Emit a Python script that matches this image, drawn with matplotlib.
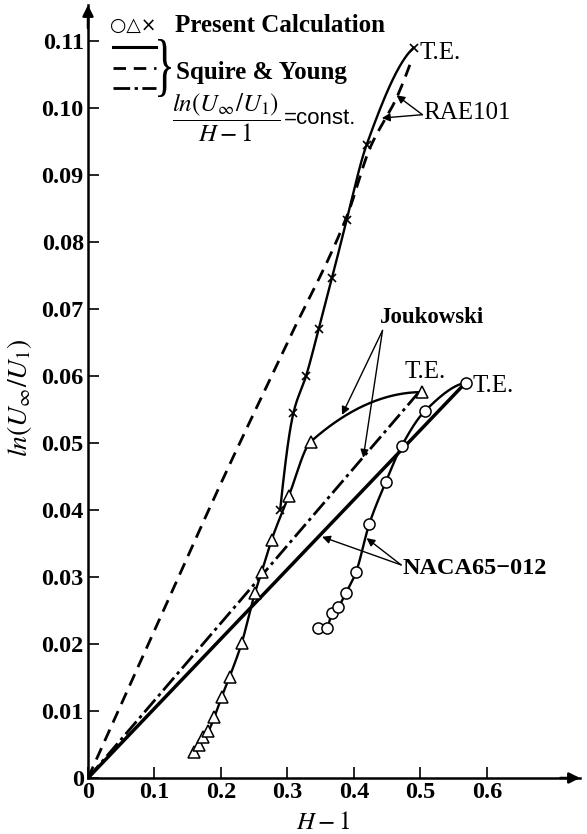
import numpy as np
import matplotlib
matplotlib.use("Agg")
import matplotlib.pyplot as plt
from matplotlib.lines import Line2D
from matplotlib.textpath import TextPath
from matplotlib.patches import PathPatch
from matplotlib.font_manager import FontProperties
from matplotlib.transforms import Affine2D, IdentityTransform

plt.rcParams['mathtext.fontset'] = 'stix'
plt.rcParams['font.family'] = ['Liberation Serif', 'DejaVu Serif']

# ---------------- data ----------------
# Present calculation
rae_x = [0.289, 0.309, 0.328, 0.347, 0.367, 0.389, 0.419, 0.490]
rae_y = [0.040, 0.0545, 0.060, 0.067, 0.0746, 0.0833, 0.0945, 0.109]

jouk_x = [0.159, 0.167, 0.173, 0.181, 0.190, 0.201, 0.213, 0.231, 0.251,
          0.261, 0.276, 0.302, 0.335, 0.503]
jouk_y = [0.0039, 0.0049, 0.0061, 0.0070, 0.0091, 0.0121, 0.0151, 0.0201,
          0.0276, 0.0307, 0.0355, 0.0421, 0.0502, 0.0576]

naca_x = [0.346, 0.359, 0.367, 0.376, 0.388, 0.403, 0.423, 0.448, 0.472,
          0.507, 0.568]
naca_y = [0.0224, 0.0224, 0.0246, 0.0255, 0.0276, 0.0307, 0.0379, 0.0442,
          0.0496, 0.0548, 0.0590]

# Squire & Young
sy_naca_x = [0.0, 0.568]
sy_naca_y = [0.0, 0.0590]
sy_rae_x = [0.0, 0.1, 0.2, 0.3, 0.39, 0.424, 0.464, 0.488]
sy_rae_y = [0.0, 0.022, 0.044, 0.065, 0.084, 0.094, 0.1015, 0.1075]
sy_jouk_x = [0.0, 0.497]
sy_jouk_y = [0.0, 0.0575]

xticks = [0, 0.1, 0.2, 0.3, 0.4, 0.5, 0.6]
xtick_labels = ['0', '0.1', '0.2', '0.3', '0.4', '0.5', '0.6']
yticks = [0, 0.01, 0.02, 0.03, 0.04, 0.05, 0.06, 0.07, 0.08, 0.09, 0.10, 0.11]
ytick_labels = ['0', '0.01', '0.02', '0.03', '0.04', '0.05', '0.06', '0.07',
                '0.08', '0.09', '0.10', '0.11']


def pchip(x, y, n=60):
    x = np.asarray(x, float)
    y = np.asarray(y, float)
    if len(x) < 3:
        return x, y
    h = np.diff(x)
    d = np.diff(y) / h
    m = np.zeros_like(y)
    for k in range(1, len(x) - 1):
        if d[k - 1] * d[k] > 0:
            w1 = 2 * h[k] + h[k - 1]
            w2 = h[k] + 2 * h[k - 1]
            m[k] = (w1 + w2) / (w1 / d[k - 1] + w2 / d[k])

    def end(h0, h1, d0, d1):
        mm = ((2 * h0 + h1) * d0 - h0 * d1) / (h0 + h1)
        if np.sign(mm) != np.sign(d0):
            mm = 0.0
        elif np.sign(d0) != np.sign(d1) and abs(mm) > abs(3 * d0):
            mm = 3 * d0
        return mm
    m[0] = end(h[0], h[1], d[0], d[1])
    m[-1] = end(h[-1], h[-2], d[-1], d[-2])
    xs, ys = [], []
    t = np.linspace(0, 1, n)
    h00 = 2 * t**3 - 3 * t**2 + 1
    h10 = t**3 - 2 * t**2 + t
    h01 = -2 * t**3 + 3 * t**2
    h11 = t**3 - t**2
    for k in range(len(h)):
        xs.append(x[k] + t * h[k])
        ys.append(h00 * y[k] + h10 * h[k] * m[k] + h01 * y[k + 1] + h11 * h[k] * m[k + 1])
    return np.concatenate(xs), np.concatenate(ys)


W, H = 587, 834
fig = plt.figure(figsize=(W / 100, H / 100), dpi=100)
x0p, y0p, x1p, y1p = 88, 778, 580, 5
ax = fig.add_axes([x0p / W, 1 - y0p / H, (x1p - x0p) / W, (y0p - y1p) / H])
ax.set_xlim(0, 0.74)
ax.set_ylim(0, (y0p - y1p) / 6700)

for s in ['top', 'right']:
    ax.spines[s].set_visible(False)
for s in ['left', 'bottom']:
    ax.spines[s].set_linewidth(1.8)

ax.annotate('', xy=(1.0, 0), xytext=(0.96, 0), xycoords='axes fraction',
            arrowprops=dict(arrowstyle='-|>', color='k', lw=1.8, mutation_scale=16,
                            shrinkA=0, shrinkB=0))
ax.annotate('', xy=(0, 1.0), xytext=(0, 0.97), xycoords='axes fraction',
            arrowprops=dict(arrowstyle='-|>', color='k', lw=1.8, mutation_scale=16,
                            shrinkA=0, shrinkB=0))

ax.set_xticks(xticks)
ax.set_xticklabels(xtick_labels)
ax.set_yticks(yticks)
ax.set_yticklabels(ytick_labels)
ax.tick_params(direction='in', length=8, width=1.2, labelsize=17.5, pad=3)
for lab in ax.get_xticklabels() + ax.get_yticklabels():
    lab.set_fontweight('bold')

# Squire & Young curves
ax.plot(sy_naca_x, sy_naca_y, color='k', lw=2.5, solid_capstyle='round')
xs, ys = pchip(sy_rae_x, sy_rae_y)
ax.plot(xs, ys, color='k', lw=2.0, dashes=(4.5, 2.8))
ax.plot(sy_jouk_x, sy_jouk_y, color='k', lw=2.0, dashes=(6, 1.6, 1.2, 1.6))

# Present calculation
xs, ys = pchip(rae_x, rae_y)
ax.plot(xs, ys, color='k', lw=1.7)
ax.plot(rae_x, rae_y, 'x', color='k', ms=6, mew=1.2)

xs, ys = pchip(jouk_x, jouk_y)
ax.plot(xs, ys, color='k', lw=1.7)
ax.plot(jouk_x, jouk_y, '^', color='k', mfc='white', ms=8, mew=1.1)

xs, ys = pchip(naca_x, naca_y)
ax.plot(xs, ys, color='k', lw=1.7)
ax.plot(naca_x, naca_y, 'o', color='k', mfc='white', ms=8, mew=1.1)

# annotations
tfs = 18
ax.text(0.498, 0.1082, 'T.E.', fontsize=tfs, ha='left', va='center')
ax.text(0.507, 0.0606, 'T.E.', fontsize=tfs, ha='center', va='center')
ax.text(0.578, 0.0585, 'T.E.', fontsize=tfs, ha='left', va='center')

arr = dict(arrowstyle='-|>', color='k', lw=1.0, mutation_scale=12, shrinkA=0, shrinkB=0)
ax.text(0.504, 0.0993, 'RAE101', fontsize=tfs, ha='left', va='center')
for tip in [(0.464, 0.1019), (0.442, 0.0985)]:
    ax.annotate('', xy=tip, xytext=(0.503, 0.0990), arrowprops=arr)

ax.text(0.517, 0.0688, 'Joukowski', fontsize=16.5, fontweight='bold', ha='center', va='center')
for tip in [(0.382, 0.0542), (0.414, 0.0478)]:
    ax.annotate('', xy=tip, xytext=(0.443, 0.0668), arrowprops=arr)

ax.text(0.473, 0.0312, 'NACA65\u2212012', fontsize=17.5, fontweight='bold', ha='left', va='center')
for tip in [(0.352, 0.0360), (0.419, 0.0358)]:
    ax.annotate('', xy=tip, xytext=(0.471, 0.0318), arrowprops=arr)

# legend block (axes fraction positions)
def fx(px):
    return (px - x0p) / (x1p - x0p)


def fy(py):
    return (y0p - py) / (y0p - y1p)


ax.text(fx(110), fy(25), '\u25cb\u25b3\u00d7', fontsize=13.5, family=['DejaVu Sans'],
        transform=ax.transAxes, ha='left', va='center')
ax.text(fx(175), fy(25), 'Present Calculation', fontsize=18, fontweight='bold',
        transform=ax.transAxes, ha='left', va='center')
ax.add_artist(Line2D([fx(113), fx(156)], [fy(47), fy(47)], color='k', lw=2.2,
                     transform=ax.transAxes))
ax.add_artist(Line2D([fx(113), fx(156)], [fy(68), fy(68)], color='k', lw=2.0,
                     dashes=(4.5, 2.8), transform=ax.transAxes))
ax.add_artist(Line2D([fx(113), fx(156)], [fy(88), fy(88)], color='k', lw=2.0,
                     dashes=(6, 1.6, 1.2, 1.6), transform=ax.transAxes))
# brace
tp = TextPath((0, 0), '}', size=1, prop=FontProperties(family='Liberation Serif'))
ext = tp.get_extents()
bw, bh = 13, 58
bx, by = 158, H - 97
tr = (Affine2D().translate(-ext.x0, -ext.y0)
      .scale(bw / ext.width, bh / ext.height).translate(bx, by))
fig.add_artist(PathPatch(tr.transform_path(tp), facecolor='k', edgecolor='none',
                         transform=IdentityTransform()))
ax.text(fx(176), fy(72), 'Squire & Young', fontsize=18, fontweight='bold',
        transform=ax.transAxes, ha='left', va='center')
ax.text(fx(172), fy(118), r'$\dfrac{ln(U_\infty/U_1)}{H-1}$', fontsize=18,
        transform=ax.transAxes, ha='left', va='center')
ax.text(fx(284), fy(118), '=const.', fontsize=16, family=['Liberation Sans'],
        transform=ax.transAxes, ha='left', va='center')

# axis labels
ax.text(fx(323), fy(823), r'$H-1$', fontsize=18, transform=ax.transAxes,
        ha='center', va='center')
ax.text(fx(20), fy(398), r'$ln(U_\infty/U_1)$', fontsize=20, rotation=90,
        transform=ax.transAxes, ha='center', va='center')

fig.savefig('out.png', dpi=100)
